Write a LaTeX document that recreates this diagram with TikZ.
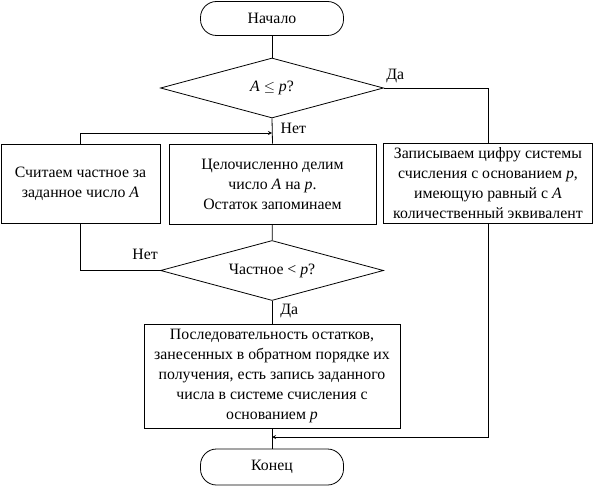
\documentclass[tikz,border=0pt]{standalone}
\usepackage{fontspec}
\setmainfont{Liberation Serif}
\usetikzlibrary{shapes.geometric}
\tikzset{>=stealth}

\begin{document}
\begin{tikzpicture}[x=1pt,y=-1pt,line width=0.8pt,
    font=\fontsize{15.8}{20}\selectfont,
    term/.style={draw, rounded corners=16pt, minimum width=143pt, minimum height=34pt},
    cond/.style={draw, diamond, aspect=3.7, inner sep=0pt, minimum width=223pt, minimum height=60pt},
    proc/.style={draw, align=center, inner sep=0pt},
    lbl/.style={inner sep=2pt}]
    \useasboundingbox (0,0) rectangle (594,489);
    \node[term] (start) at (272,18.5) {Начало};
    \node[cond] (cond1) at (272,88) {\textit{A} $\leq$ \textit{p}?};
    \node[proc, minimum width=159pt, minimum height=79pt] (count) at (80.5,183.5) {Считаем частное за\\ заданное число \textit{A}};
    \node[proc, minimum width=207pt, minimum height=80pt] (divide) at (272.5,184) {Целочисленно делим\\ число \textit{A} на \textit{p}.\\ Остаток запоминаем};
    \node[proc, minimum width=209pt, minimum height=80pt] (digit) at (488,183) {Записываем цифру системы\\ счисления с основанием \textit{p},\\ имеющую равный с \textit{A}\\ количественный эквивалент};
    \node[cond] (cond2) at (272,270.5) {Частное < \textit{p}?};
    \node[proc, minimum width=256pt, minimum height=104pt] (result) at (272,376) {Последовательность остатков,\\ занесенных в обратном порядке их\\ получения, есть запись заданного\\ числа в системе счисления с\\ основанием \textit{p}};
    \node[term, minimum height=36pt] (stop) at (272,467) {Конец};
    \coordinate (join) at (272,133);
    \coordinate (merge) at (272,437);
    \draw (start) -- (cond1);
    \draw (cond1.east) -| (digit.north) node[pos=0, lbl, above right, yshift=3pt] {Да};
    \draw (cond1.south) -- (divide.north) node[pos=0.4, lbl, right, xshift=6pt] {Нет};
    \draw[->] (count.north) |- (join);
    \draw (divide) -- (cond2);
    \draw (cond2.west) -| (count.south) node[pos=0, lbl, above left, yshift=8pt] {Нет};
    \draw (cond2.south) -- (result.north) node[pos=0.45, lbl, right, xshift=6pt] {Да};
    \draw (result) -- (stop);
    \draw[->] (digit.south) |- (merge);
\end{tikzpicture}
\end{document}
